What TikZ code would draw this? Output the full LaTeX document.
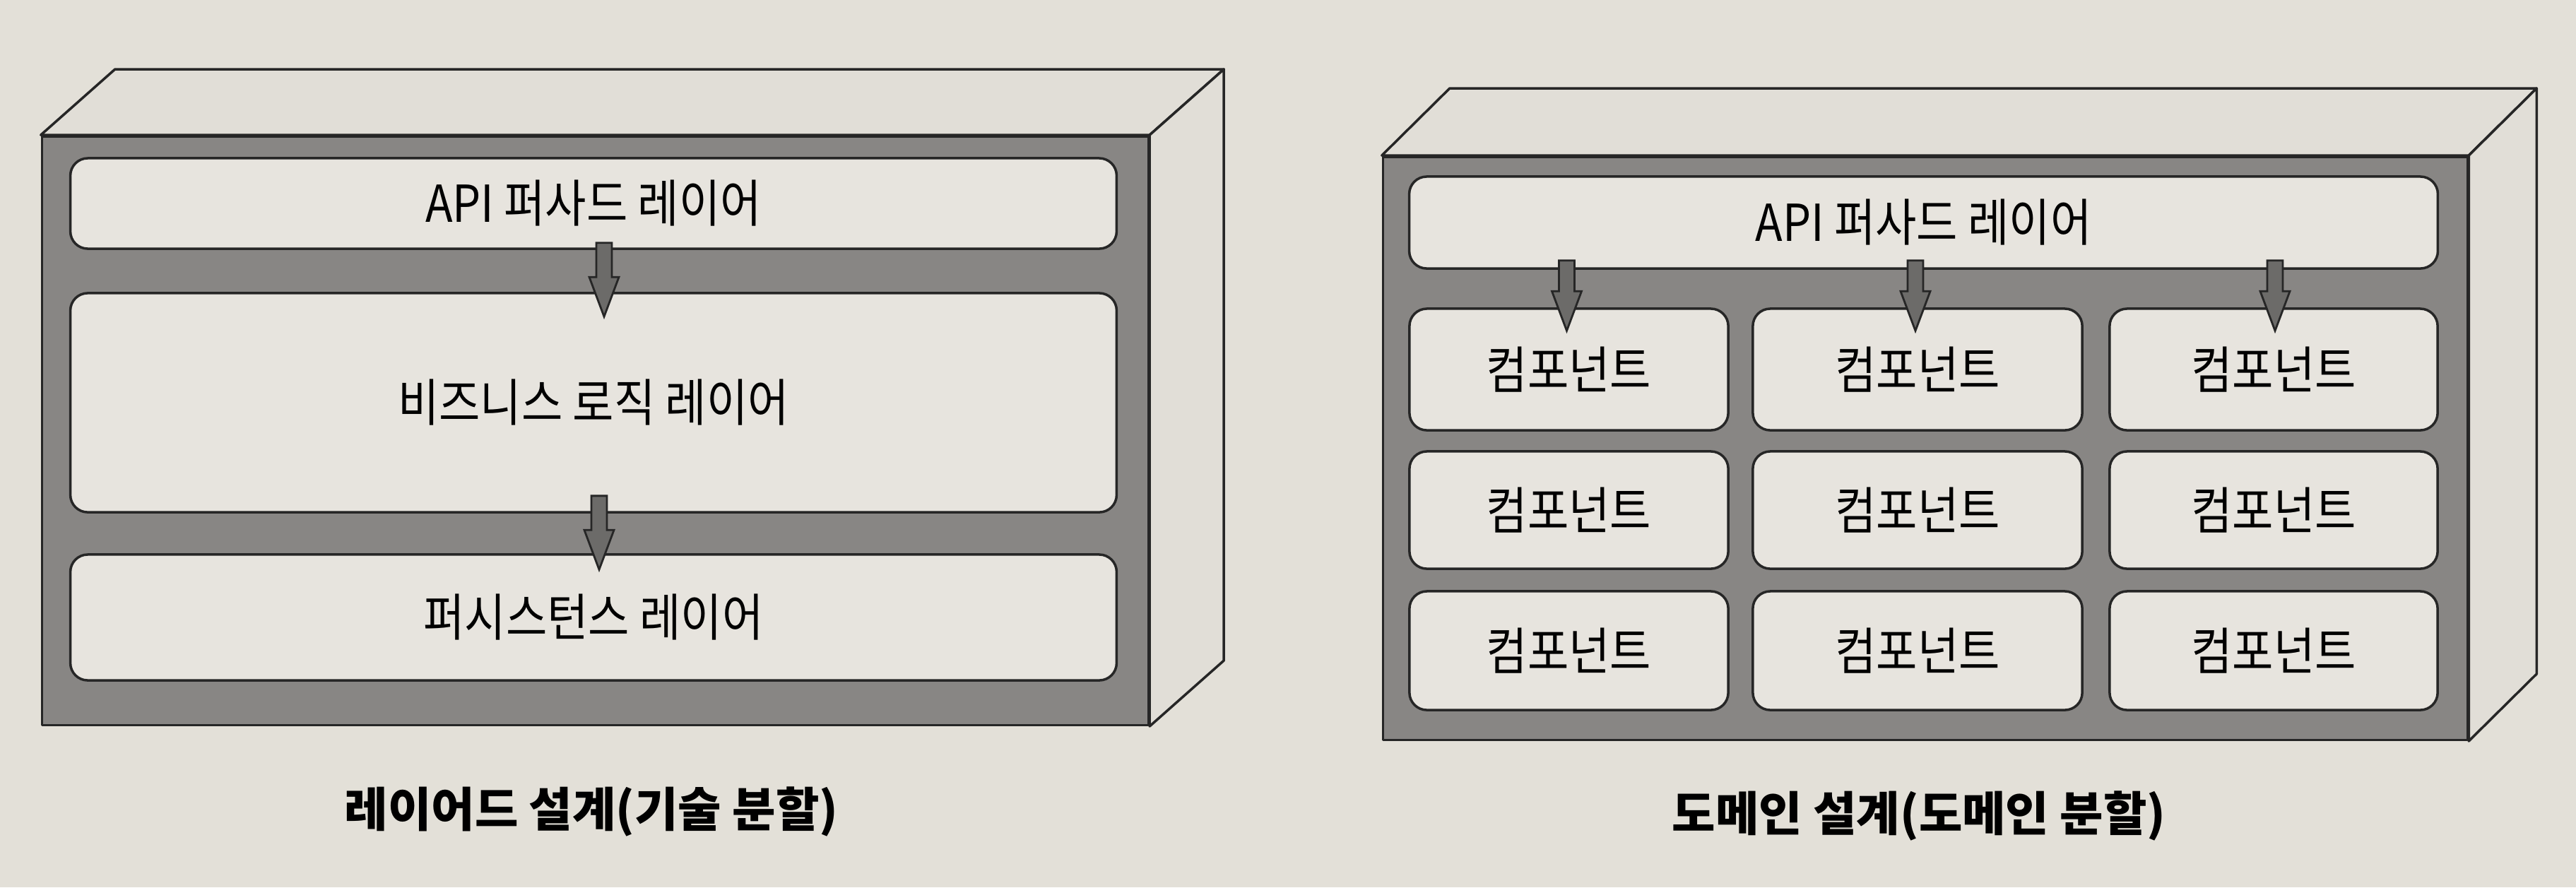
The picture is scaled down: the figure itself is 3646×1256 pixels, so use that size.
\documentclass[tikz,border=0pt]{standalone}
\usepackage{fontspec}
\newfontfamily\kr{Noto Sans CJK KR}
\newfontfamily\krn[FakeStretch=0.88]{Noto Sans CJK KR}
\usetikzlibrary{calc}
\definecolor{bg}{HTML}{E3E0D8}
\definecolor{face}{HTML}{E1DED7}
\definecolor{framegray}{HTML}{888684}
\definecolor{cell}{HTML}{E7E4DE}
\definecolor{arrgray}{HTML}{6C6B69}
\tikzset{
  outline/.style={draw=black!85, line width=1pt, line join=round},
  frontface/.style={outline, fill=framegray, inner sep=0pt},
  sideface/.style={outline, fill=face},
  cellbox/.style={outline, fill=cell, rounded corners=7pt, inner sep=0pt,
    font=\krn\fontsize{20.5}{22}\selectfont},
  titletext/.style={font=\kr\bfseries\fontsize{19}{22}\selectfont, inner sep=0pt},
  blockarrow/.style={draw=black!85, line width=0.8pt, fill=arrgray, line join=miter},
}
\newcommand{\blkarrow}[2]{%
  \draw[blockarrow] ($(#1)+(-11,0)$) -- ($(#1)+(11,0)$) -- ($(#2)+(11,-56)$) --
    ($(#2)+(21,-56)$) -- (#2) -- ($(#2)+(-21,-56)$) -- ($(#2)+(-11,-56)$) -- cycle;}
\begin{document}
\begin{tikzpicture}[x=0.01cm, y=-0.01cm]
\useasboundingbox (0,0) rectangle (3646,1256);
\fill[bg] (0,0) rectangle (3646,1256);

% ---------- left: layered design ----------
\node[frontface, minimum width=15.65cm, minimum height=8.33cm] (lfront) at (842.5,609.5) {};
\draw[sideface] (lfront.north west) -- ++(105,-93) -- ($(lfront.north east)+(105,-93)$) -- (lfront.north east) -- cycle;
\draw[sideface] (lfront.north east) -- ++(105,-93) -- ($(lfront.south east)+(105,-93)$) -- (lfront.south east) -- cycle;

\node[cellbox, minimum width=14.8cm, minimum height=1.28cm] (lapi) at (840,288) {API 퍼사드 레이어};
\node[cellbox, minimum width=14.8cm, minimum height=3.10cm] (lbiz) at (840,570) {비즈니스 로직 레이어};
\node[cellbox, minimum width=14.8cm, minimum height=1.78cm] (lper) at (840,874) {퍼시스턴스 레이어};

\coordinate (la1s) at ($(lapi.south)+(15,-10)$);
\coordinate (la1e) at ($(lbiz.north)+(15,35)$);
\coordinate (la2s) at ($(lbiz.south)+(8,-25)$);
\coordinate (la2e) at ($(lper.north)+(8,23)$);
\blkarrow{la1s}{la1e}
\blkarrow{la2s}{la2e}

\node[titletext] (ltitle) at (837,1149) {레이어드 설계(기술 분할)};

% ---------- right: domain design ----------
\node[frontface, minimum width=15.34cm, minimum height=8.25cm] (rfront) at (2725,634.5) {};
\draw[sideface] (rfront.north west) -- ++(96,-95) -- ($(rfront.north east)+(96,-95)$) -- (rfront.north east) -- cycle;
\draw[sideface] (rfront.north east) -- ++(96,-95) -- ($(rfront.south east)+(96,-95)$) -- (rfront.south east) -- cycle;

\node[cellbox, minimum width=14.55cm, minimum height=1.30cm] (rapi) at (2722.5,315) {API 퍼사드 레이어};

\node[cellbox, minimum width=4.51cm, minimum height=1.72cm] (c11) at (2220.5,523) {컴포넌트};
\node[cellbox, minimum width=4.66cm, minimum height=1.72cm] (c12) at (2714,523) {컴포넌트};
\node[cellbox, minimum width=4.64cm, minimum height=1.72cm] (c13) at (3218,523) {컴포넌트};
\node[cellbox, minimum width=4.51cm, minimum height=1.66cm] (c21) at (2220.5,722) {컴포넌트};
\node[cellbox, minimum width=4.66cm, minimum height=1.66cm] (c22) at (2714,722) {컴포넌트};
\node[cellbox, minimum width=4.64cm, minimum height=1.66cm] (c23) at (3218,722) {컴포넌트};
\node[cellbox, minimum width=4.51cm, minimum height=1.68cm] (c31) at (2220.5,921) {컴포넌트};
\node[cellbox, minimum width=4.66cm, minimum height=1.68cm] (c32) at (2714,921) {컴포넌트};
\node[cellbox, minimum width=4.64cm, minimum height=1.68cm] (c33) at (3218,921) {컴포넌트};

\coordinate (ra1s) at ($(c11.north |- rapi.south)+(-3,-13)$);
\coordinate (ra1e) at ($(c11.north)+(-3,33)$);
\coordinate (ra2s) at ($(c12.north |- rapi.south)+(-3,-13)$);
\coordinate (ra2e) at ($(c12.north)+(-3,33)$);
\coordinate (ra3s) at ($(c13.north |- rapi.south)+(2,-13)$);
\coordinate (ra3e) at ($(c13.north)+(2,33)$);
\blkarrow{ra1s}{ra1e}
\blkarrow{ra2s}{ra2e}
\blkarrow{ra3s}{ra3e}

\node[titletext] (rtitle) at (2716,1155) {도메인 설계(도메인 분할)};
\end{tikzpicture}
\end{document}
